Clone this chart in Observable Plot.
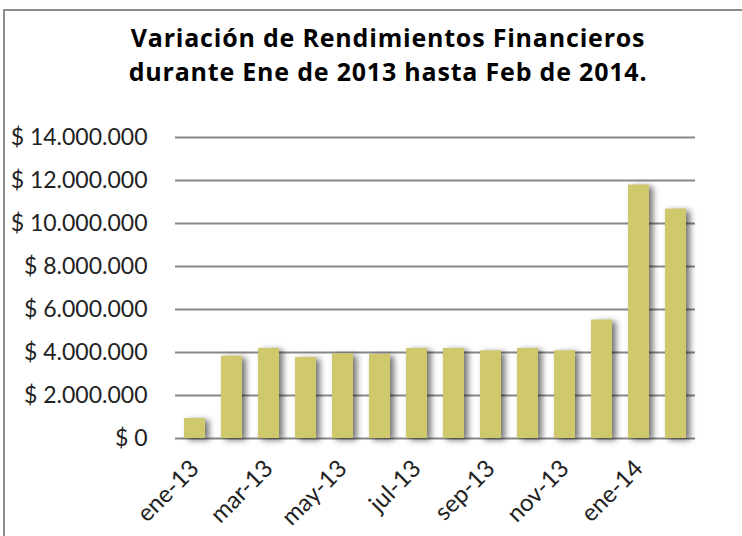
<!DOCTYPE html>
<html><head><meta charset="utf-8">
<script src="https://cdn.jsdelivr.net/npm/d3@7"></script>
<script src="https://cdn.jsdelivr.net/npm/@observablehq/plot@0.6"></script>
<style>
body{margin:0;background:#fff;font-family:Lato,sans-serif;overflow:hidden;}
#frame{position:absolute;left:3px;top:9px;width:800px;height:600px;border:2px solid #8c8c8c;box-sizing:border-box;}
#title{position:absolute;left:0;top:20px;width:776px;text-align:center;font-family:"Open Sans",sans-serif;font-weight:bold;font-size:25px;letter-spacing:0.8px;line-height:34px;color:#000;}
#chart{position:absolute;left:0;top:100px;}
</style></head>
<body>
<div id="frame"></div>
<div id="title">Variación de Rendimientos Financieros<br>durante Ene de 2013 hasta Feb de 2014.</div>
<div id="chart"></div>
<script>
const months = ["ene-13","feb-13","mar-13","abr-13","may-13","jun-13","jul-13","ago-13","sep-13","oct-13","nov-13","dic-13","ene-14","feb-14"];
const values = [930000,3830000,4190000,3770000,3940000,3910000,4190000,4190000,4080000,4190000,4080000,5510000,11790000,10670000];
const yTicks = [0,2000000,4000000,6000000,8000000,10000000,12000000,14000000];
const xTickLabels = ["ene-13","mar-13","may-13","jul-13","sep-13","nov-13","ene-14"];

const data = months.map((m,i)=>({month:m, value:values[i]}));
const loc = d3.formatLocale({decimal:",", thousands:".", grouping:[3], currency:["$ ",""]});
const fmt = loc.format("$,");

const chart = Plot.plot({
  width: 742,
  height: 436,
  marginTop: 37,
  marginBottom: 98,
  marginLeft: 175,
  marginRight: 47,
  style: {fontFamily: "Lato, sans-serif", color: "#222", background: "transparent"},
  x: {domain: months, paddingInner: 0.43, paddingOuter: 0.215, label: null},
  y: {domain: [0,14000000], label: null},
  marks: [
    Plot.gridY(yTicks, {stroke: "#888", strokeOpacity: 1, strokeWidth: 2}),
    Plot.barY(data, {x: "month", y: "value", fill: "#cfc96b"}),
    Plot.axisY(yTicks, {tickSize: 0, tickPadding: 28, tickFormat: fmt, fontSize: 23, label: null}),
    Plot.axisX(xTickLabels, {tickSize: 0, tickPadding: 26, tickRotate: -45, fontSize: 24, label: null})
  ]
});
d3.select(chart).select('g[aria-label="bar"]').style("filter", "drop-shadow(4px 2px 3px rgba(0,0,0,0.55))");
document.getElementById("chart").appendChild(chart);
</script>
</body></html>
